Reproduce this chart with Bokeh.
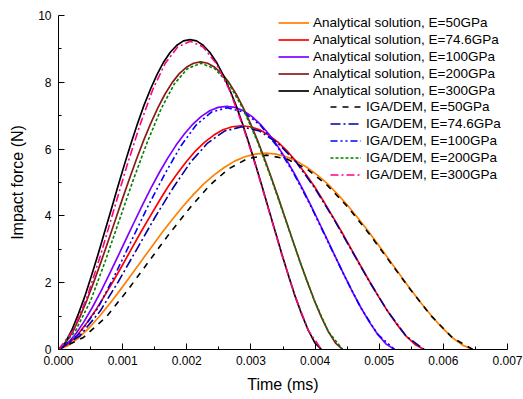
from bokeh.plotting import figure
from bokeh.models import Range1d, FixedTicker, NumeralTickFormatter, Legend, LegendItem
from bokeh.embed import file_html
from bokeh.resources import INLINE

# ---------------- data (time in ms, force in N) ----------------
# Analytical solutions
t_ana_50 = [0, 0.0001615, 0.000323, 0.0004845, 0.000646, 0.0008075, 0.000969, 0.0011305, 0.001292, 0.0014535,
            0.001615, 0.0017765, 0.001938, 0.0020995, 0.002261, 0.0024225, 0.002584, 0.0027455, 0.002907, 0.0030685,
            0.00323, 0.0033915, 0.003553, 0.0037145, 0.003876, 0.0040375, 0.004199, 0.0043605, 0.004522, 0.0046835,
            0.004845, 0.0050065, 0.005168, 0.0053295, 0.005491, 0.0056525, 0.005814, 0.0059755, 0.006137, 0.0062985,
            0.00646]
f_ana_50 = [0, 0.13, 0.36, 0.66, 1.01, 1.39, 1.80, 2.22, 2.65, 3.08,
            3.50, 3.90, 4.28, 4.63, 4.95, 5.22, 5.45, 5.64, 5.77, 5.85,
            5.88, 5.85, 5.77, 5.64, 5.45, 5.22, 4.95, 4.63, 4.28, 3.90,
            3.50, 3.08, 2.65, 2.22, 1.80, 1.39, 1.01, 0.66, 0.36, 0.13,
            0]

t_ana_74 = [0, 0.0001425, 0.000285, 0.0004275, 0.00057, 0.0007125, 0.000855, 0.0009975, 0.00114, 0.0012825,
            0.001425, 0.0015675, 0.00171, 0.0018525, 0.001995, 0.0021375, 0.00228, 0.0024225, 0.002565, 0.0027075,
            0.00285, 0.0029925, 0.003135, 0.0032775, 0.00342, 0.0035625, 0.003705, 0.0038475, 0.00399, 0.0041325,
            0.004275, 0.0044175, 0.00456, 0.0047025, 0.004845, 0.0049875, 0.00513, 0.0052725, 0.005415, 0.0055575,
            0.0057]
f_ana_74 = [0, 0.15, 0.41, 0.76, 1.15, 1.59, 2.05, 2.53, 3.02, 3.51,
            3.98, 4.44, 4.88, 5.27, 5.63, 5.95, 6.21, 6.42, 6.58, 6.67,
            6.70, 6.67, 6.58, 6.42, 6.21, 5.95, 5.63, 5.27, 4.88, 4.44,
            3.98, 3.51, 3.02, 2.53, 2.05, 1.59, 1.15, 0.76, 0.41, 0.15,
            0]

t_ana_100 = [0, 0.000131, 0.000262, 0.000393, 0.000524, 0.000655, 0.000786, 0.000917, 0.001048, 0.001179,
             0.00131, 0.001441, 0.001572, 0.001703, 0.001834, 0.001965, 0.002096, 0.002227, 0.002358, 0.002489,
             0.00262, 0.002751, 0.002882, 0.003013, 0.003144, 0.003275, 0.003406, 0.003537, 0.003668, 0.003799,
             0.00393, 0.004061, 0.004192, 0.004323, 0.004454, 0.004585, 0.004716, 0.004847, 0.004978, 0.005109,
             0.00524]
f_ana_100 = [0, 0.16, 0.45, 0.82, 1.25, 1.72, 2.23, 2.75, 3.28, 3.81,
             4.33, 4.83, 5.30, 5.73, 6.12, 6.46, 6.75, 6.98, 7.15, 7.25,
             7.28, 7.25, 7.15, 6.98, 6.75, 6.46, 6.12, 5.73, 5.30, 4.83,
             4.33, 3.81, 3.28, 2.75, 2.23, 1.72, 1.25, 0.82, 0.45, 0.16,
             0]

t_ana_200 = [0, 0.00011075, 0.0002215, 0.00033225, 0.000443, 0.00055375, 0.0006645, 0.00077525, 0.000886, 0.00099675,
             0.0011075, 0.00121825, 0.001329, 0.00143975, 0.0015505, 0.00166125, 0.001772, 0.00188275, 0.0019935, 0.00210425,
             0.002215, 0.00232575, 0.0024365, 0.00254725, 0.002658, 0.00276875, 0.0028795, 0.00299025, 0.003101, 0.00321175,
             0.0033225, 0.00343325, 0.003544, 0.00365475, 0.0037655, 0.00387625, 0.003987, 0.00409775, 0.0042085, 0.00431925,
             0.00443]
f_ana_200 = [0, 0.19, 0.53, 0.97, 1.48, 2.04, 2.63, 3.25, 3.88, 4.51,
             5.12, 5.71, 6.27, 6.78, 7.24, 7.65, 7.99, 8.26, 8.45, 8.57,
             8.61, 8.57, 8.45, 8.26, 7.99, 7.65, 7.24, 6.78, 6.27, 5.71,
             5.12, 4.51, 3.88, 3.25, 2.63, 2.04, 1.48, 0.97, 0.53, 0.19,
             0]

t_ana_300 = [0, 0.0001025, 0.000205, 0.0003075, 0.00041, 0.0005125, 0.000615, 0.0007175, 0.00082, 0.0009225,
             0.001025, 0.0011275, 0.00123, 0.0013325, 0.001435, 0.0015375, 0.00164, 0.0017425, 0.001845, 0.0019475,
             0.00205, 0.0021525, 0.002255, 0.0023575, 0.00246, 0.0025625, 0.002665, 0.0027675, 0.00287, 0.0029725,
             0.003075, 0.0031775, 0.00328, 0.0033825, 0.003485, 0.0035875, 0.00369, 0.0037925, 0.003895, 0.0039975,
             0.0041]
f_ana_300 = [0, 0.20, 0.57, 1.05, 1.59, 2.20, 2.84, 3.51, 4.18, 4.86,
             5.52, 6.15, 6.75, 7.31, 7.80, 8.24, 8.61, 8.90, 9.11, 9.24,
             9.28, 9.24, 9.11, 8.90, 8.61, 8.24, 7.80, 7.31, 6.75, 6.15,
             5.52, 4.86, 4.18, 3.51, 2.84, 2.20, 1.59, 1.05, 0.57, 0.20,
             0]

# IGA/DEM results
t_iga_50 = [0, 0.000389, 0.000756, 0.001079, 0.001402, 0.001725, 0.002048, 0.002349, 0.0026445, 0.00294, 0.0032432,
            0.003553, 0.003876, 0.004199, 0.004522, 0.004845, 0.005168, 0.005491, 0.005814, 0.006137, 0.00646]
f_iga_50 = [0, 0.36, 1.00, 1.78, 2.62, 3.46, 4.24, 4.90, 5.40, 5.71, 5.82,
            5.71, 5.40, 4.90, 4.24, 3.46, 2.62, 1.78, 1.00, 0.36, 0]

t_iga_74 = [0, 0.000333, 0.00065, 0.000935, 0.00122, 0.001505, 0.00179, 0.002059, 0.002324, 0.002589, 0.0028596,
            0.003135, 0.00342, 0.003705, 0.00399, 0.004275, 0.00456, 0.004845, 0.00513, 0.005415, 0.0057]
f_iga_74 = [0, 0.41, 1.15, 2.04, 3.00, 3.96, 4.85, 5.61, 6.18, 6.54, 6.67,
            6.54, 6.18, 5.61, 4.85, 3.96, 3.00, 2.04, 1.15, 0.41, 0]

t_iga_100 = [0, 0.000316, 0.000614, 0.000876, 0.001138, 0.0014, 0.001662, 0.001906, 0.0021455, 0.002385, 0.0026308,
             0.002882, 0.003144, 0.003406, 0.003668, 0.00393, 0.004192, 0.004454, 0.004716, 0.004978, 0.00524]
f_iga_100 = [0, 0.45, 1.24, 2.22, 3.26, 4.31, 5.27, 6.09, 6.72, 7.11, 7.24,
             7.11, 6.72, 6.09, 5.27, 4.31, 3.26, 2.22, 1.24, 0.45, 0]

t_iga_200 = [0, 0.0002575, 0.000503, 0.0007245, 0.000946, 0.0011675, 0.001389, 0.0015985, 0.001805, 0.0020115, 0.0022222,
             0.0024365, 0.002658, 0.0028795, 0.003101, 0.0033225, 0.003544, 0.0037655, 0.003987, 0.0042085, 0.00443]
f_iga_200 = [0, 0.53, 1.47, 2.62, 3.86, 5.09, 6.23, 7.20, 7.95, 8.41, 8.57,
             8.41, 7.95, 7.20, 6.23, 5.09, 3.86, 2.62, 1.47, 0.53, 0]

t_iga_300 = [0, 0.000229, 0.00045, 0.000655, 0.00086, 0.001065, 0.00127, 0.001467, 0.001662, 0.001857, 0.0020548,
             0.002255, 0.00246, 0.002665, 0.00287, 0.003075, 0.00328, 0.003485, 0.00369, 0.003895, 0.0041]
f_iga_300 = [0, 0.57, 1.59, 2.82, 4.16, 5.49, 6.72, 7.77, 8.56, 9.06, 9.23,
             9.06, 8.56, 7.77, 6.72, 5.49, 4.16, 2.82, 1.59, 0.57, 0]

ana_labels = ["Analytical solution, E=50GPa", "Analytical solution, E=74.6GPa",
              "Analytical solution, E=100GPa", "Analytical solution, E=200GPa",
              "Analytical solution, E=300GPa"]
iga_labels = ["IGA/DEM, E=50GPa", "IGA/DEM, E=74.6GPa", "IGA/DEM, E=100GPa",
              "IGA/DEM, E=200GPa", "IGA/DEM, E=300GPa"]

x_ticks = [0.0, 0.001, 0.002, 0.003, 0.004, 0.005, 0.006, 0.007]
x_minor = [0.0005, 0.0015, 0.0025, 0.0035, 0.0045, 0.0055, 0.0065]
y_ticks = [0, 2, 4, 6, 8, 10]
y_minor = [1, 3, 5, 7, 9]

# ---------------- styling ----------------
FONT = "Liberation Sans"
ana_colors = ["#FF8000", "#FF0000", "#8000FF", "#8B1A1A", "#000000"]
iga_colors = ["#000000", "#0000A0", "#0000FF", "#008000", "#FF0080"]
iga_dashes = ["6 6", "10 3 2 3", "7 3 2 3 2 3", "3 2", "8 3 2 3"]

p = figure(width=523, height=399, output_backend="svg", toolbar_location=None,
           x_range=Range1d(0, 0.007), y_range=Range1d(0, 10),
           min_border_left=58, min_border_right=16, min_border_top=15, min_border_bottom=50)
p.outline_line_color = None
p.grid.visible = False
p.background_fill_color = "white"
p.border_fill_color = "white"

for ax in (p.xaxis[0], p.yaxis[0]):
    ax.axis_line_color = "black"
    ax.axis_line_width = 1
    ax.major_tick_line_color = "black"
    ax.minor_tick_line_color = "black"
    ax.major_tick_in = 6
    ax.major_tick_out = 0
    ax.minor_tick_in = 3
    ax.minor_tick_out = 0
    ax.major_label_text_font = FONT
    ax.major_label_text_font_size = "12px"
    ax.major_label_text_color = "black"
    ax.axis_label_text_font = FONT
    ax.axis_label_text_font_size = "16px"
    ax.axis_label_text_font_style = "normal"
    ax.axis_label_text_color = "black"

p.xaxis.ticker = FixedTicker(ticks=x_ticks, minor_ticks=x_minor)
p.xaxis.formatter = NumeralTickFormatter(format="0.000")
p.xaxis.major_label_standoff = 6
p.xaxis.axis_label = "Time (ms)"
p.xaxis.axis_label_standoff = 8
p.yaxis.ticker = FixedTicker(ticks=y_ticks, minor_ticks=y_minor)
p.yaxis.major_label_standoff = 7
p.yaxis.axis_label = "Impact force (N)"
p.yaxis.axis_label_standoff = 9

ana_data = [(t_ana_50, f_ana_50), (t_ana_74, f_ana_74), (t_ana_100, f_ana_100),
            (t_ana_200, f_ana_200), (t_ana_300, f_ana_300)]
iga_data = [(t_iga_50, f_iga_50), (t_iga_74, f_iga_74), (t_iga_100, f_iga_100),
            (t_iga_200, f_iga_200), (t_iga_300, f_iga_300)]

ana_items = []
for (t, f), c, lab in zip(ana_data, ana_colors, ana_labels):
    r = p.line(t, f, line_color=c, line_width=1.7, line_join="round")
    ana_items.append(LegendItem(label=lab, renderers=[r]))

iga_items = []
for (t, f), c, d, lab in zip(iga_data, iga_colors, iga_dashes, iga_labels):
    r = p.line(t, f, line_color=c, line_width=1.6, line_dash=d, line_join="round")
    iga_items.append(LegendItem(label=lab, renderers=[r]))

def make_legend(items, loc, standoff):
    lg = Legend(items=items, location=loc, orientation="vertical",
                glyph_width=31, glyph_height=17, label_height=17, spacing=0,
                label_standoff=standoff, padding=0, margin=0,
                border_line_color=None, background_fill_alpha=0,
                label_text_font=FONT, label_text_font_size="13.5px",
                label_text_color="black")
    return lg

p.add_layout(make_legend(ana_items, (220, 250), 4), "center")
p.add_layout(make_legend(iga_items, (272, 166), 5), "center")

open("out.html", "w").write(file_html(p, INLINE))
